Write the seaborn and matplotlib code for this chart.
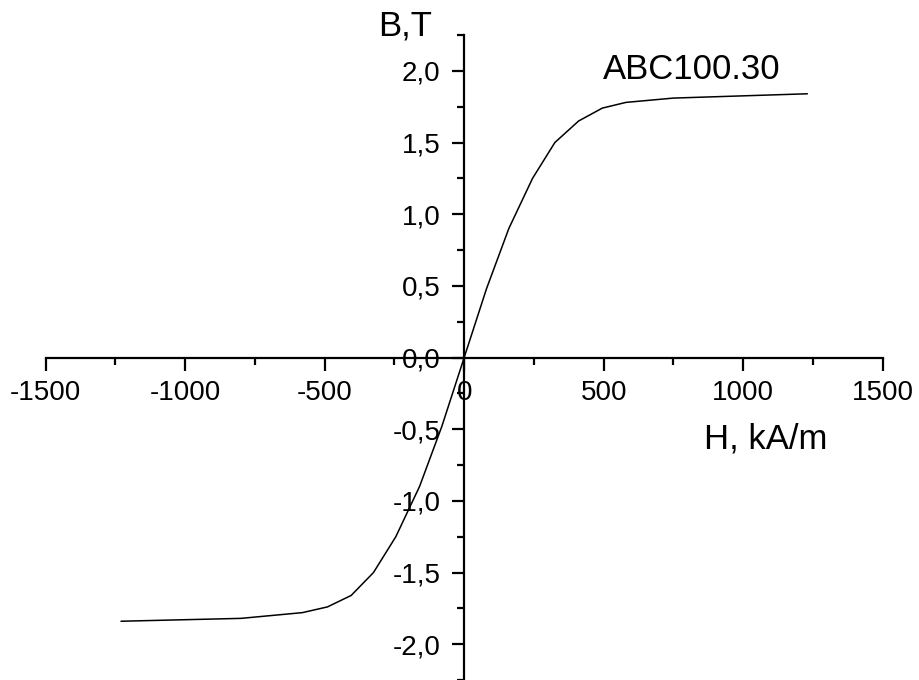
import matplotlib
matplotlib.use("Agg")
import matplotlib.pyplot as plt
from matplotlib.ticker import MultipleLocator, FuncFormatter
import seaborn as sns
import pandas as pd

# Data
H_kA_m = [-1230, -800, -580, -490, -405, -325, -245, -160, -80, 0,
          80, 160, 245, 325, 410, 495, 580, 750, 1230]
B_T = [-1.84, -1.82, -1.78, -1.74, -1.66, -1.50, -1.25, -0.90, -0.48, 0.0,
       0.48, 0.90, 1.25, 1.50, 1.65, 1.74, 1.78, 1.81, 1.84]

x_label = "H, kA/m"
y_label = "B,T"
series_label = "ABC100.30"

sns.set_theme(style="white")
plt.rcParams["font.family"] = ["Liberation Sans", "DejaVu Sans"]

df = pd.DataFrame({"H": H_kA_m, "B": B_T})

fig = plt.figure(figsize=(9.19, 6.8), dpi=100)
ax = fig.add_axes([0.0497, 0.0, 0.9108, 0.9485])

sns.lineplot(data=df, x="H", y="B", ax=ax, color="black", linewidth=1.1,
             sort=False, estimator=None)

ax.set_xlim(-1500, 1500)
ax.set_ylim(-2.25, 2.25)

for s in ["top", "right"]:
    ax.spines[s].set_visible(False)
ax.spines["left"].set_position(("data", 0))
ax.spines["bottom"].set_position(("data", 0))
for s in ["left", "bottom"]:
    ax.spines[s].set_color("black")
    ax.spines[s].set_linewidth(1.6)

ax.xaxis.set_major_locator(MultipleLocator(500))
ax.xaxis.set_minor_locator(MultipleLocator(250))
ax.yaxis.set_major_locator(MultipleLocator(0.5))
ax.yaxis.set_minor_locator(MultipleLocator(0.25))

def yfmt(v, p):
    if abs(v) < 1e-9:
        v = 0.0
    return f"{v:.1f}".replace(".", ",")

ax.yaxis.set_major_formatter(FuncFormatter(yfmt))
ax.xaxis.set_major_formatter(FuncFormatter(lambda v, p: f"{int(round(v))}"))

ax.tick_params(axis="both", which="major", direction="out", length=9,
               width=1.6, color="black", labelsize=20, labelcolor="black")
ax.tick_params(axis="both", which="minor", direction="out", length=5,
               width=1.6, color="black")
ax.tick_params(axis="x", which="major", pad=7)
ax.tick_params(axis="y", which="major", pad=8)
ax.tick_params(bottom=True, left=True, which="both")

ax.set_xlabel("")
ax.set_ylabel("")
ax.grid(False)

ax.text(499, 1.94, series_label, fontsize=25, ha="left", va="baseline", color="black")
ax.text(859, -0.636, x_label, fontsize=25, ha="left", va="baseline", color="black")
ax.text(-309, 2.245, y_label, fontsize=25, ha="left", va="baseline", color="black",
        clip_on=False)

fig.savefig("out.png", dpi=100, facecolor="white")
